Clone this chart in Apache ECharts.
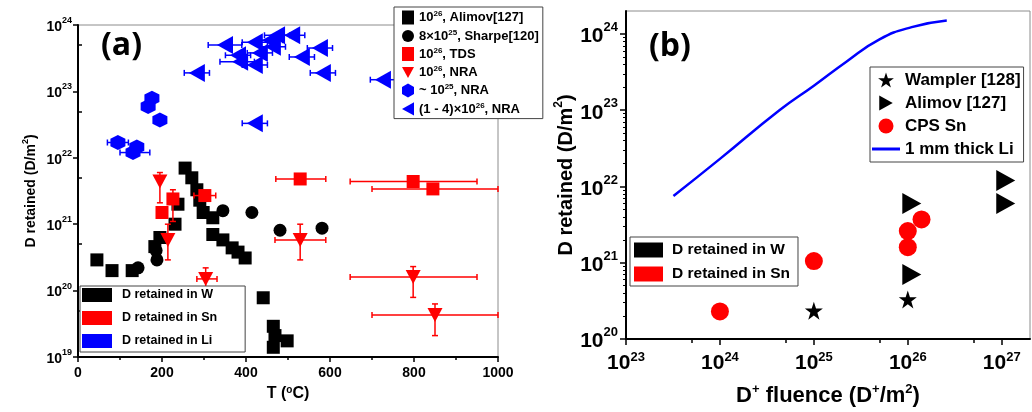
<!DOCTYPE html>
<html><head><meta charset="utf-8">
<script src="https://cdn.jsdelivr.net/npm/echarts@6/dist/echarts.min.js"></script>
<style>html,body{margin:0;padding:0;background:#fff}#c{width:1032px;height:412px}</style>
</head><body><div id="c"></div>
<script>
// ---------- Panel (a) data: [T (°C), D retained, Tlow, Thigh, Dlow, Dhigh]
const aAlimovW = [[45,2.9e20],[81,2e20],[129,2e20],[183,4.6e20],[195,6.3e20],[231,1e21],[238,2e21],[255,7e21],[271,5e21],[283,3.3e21],[290,2.3e21],[298,1.5e21],[321,1.25e21],[321,7e20],[345,5.8e20],[367,4.4e20],[381,3.8e20],[398,3.1e20],[441,7.8e19],[465,2.9e19],[469,2.1e19],[465,1.4e19],[498,1.75e19]];
const aSharpeW = [[143,2.2e20],[188,2.9e20],[186,4e20],[345,1.6e21],[414,1.5e21],[481,8.1e20],[581,8.7e20]];
const aTdsSn = [[200,1.5e21,null,null,null,null],[226,2.4e21,null,null,1.1e21,3.3e21],[302,2.7e21,276,328,null,null],[529,4.8e21,471,590,null,null],[798,4.4e21,648,950,null,null],[845,3.4e21,700,1000,null,null]];
const aNraSn = [[195,4.4e21,null,null,2.1e21,6e21],[214,5.8e20,null,null,2.9e20,1e21],[304,1.5e20,283,331,9.5e19,2.2e20],[529,5.8e20,469,590,2.9e20,1e21],[798,1.6e20,648,950,7.9e19,2.3e20],[850,4.3e19,700,1000,2.1e19,6.3e19]];
const aLi25 = [[95,1.7e22,70,120],[131,1.2e22,100,171],[140,1.45e22,null,null],[167,5.9e22,null,null],[176,7.9e22,null,null],[195,3.7e22,null,null]];
const aLi26 = [[283,1.9e23,253,313],[421,3.3e22,391,451],[350,5e23,310,390],[381,3.5e23,351,411],[386,2.8e23,338,420],[421,5.5e23,391,451],[421,2.5e23,391,451],[433,3.8e23,403,463],[457,5.9e23,427,487],[474,7e23,444,504],[464,4.7e23,434,494],[510,7e23,480,540],[533,3.3e23,503,563],[576,4.5e23,546,606],[583,1.9e23,553,613],[726,1.5e23,696,756]];
// ---------- Panel (b) data: [D+ fluence, D retained]
const bWampler = [[1e25,2.35e20],[1e26,3.3e20]];
const bAlimov = [[1e26,7e20],[1e26,6e21],[1e27,1.2e22],[1e27,6e21]];
const bCpsSn = [[1e24,2.3e20],[1e25,1.05e21],[1e26,1.6e21],[1e26,2.6e21],[1.4e26,3.7e21]];
const bLiFluence = [3.2e23,1e24,4.3e24,1e25,2.2e25,5e25,1.1e26,2.6e26];
const bLiRetained = [7.5e21,2.3e22,1e23,2.1e23,4.3e23,8.5e23,1.23e24,1.5e24];
const aYMinor = [5e19,5e20,5e21,5e22,5e23];
const bXMinor = [5e23,5e24,5e25,5e26];
const bYMinor = [];
for (let e = 20; e <= 23; e++) for (let k = 2; k <= 9; k++) bYMinor.push(k * Math.pow(10, e));
bYMinor.push(2e24);

const FF = '"Liberation Sans", Arial, sans-serif';
const RED = '#ff0000', BLUE = '#0000ff', BLK = '#000000';

function fill(rows) {
  return rows.map(r => [r[0], r[1],
    r[2] == null ? r[0] : r[2], r[3] == null ? r[0] : r[3],
    r[4] == null ? r[1] : r[4], r[5] == null ? r[1] : r[5]]);
}
function errRender(color, cap, lw) {
  return function (params, api) {
    const x = api.value(0), y = api.value(1);
    const xl = api.value(2), xh = api.value(3), yl = api.value(4), yh = api.value(5);
    const st = { stroke: color, lineWidth: lw };
    const ch = [];
    const L = (x1, y1, x2, y2) => ch.push({ type: 'line', shape: { x1, y1, x2, y2 }, style: st });
    if (xl !== xh) {
      const a = api.coord([xl, y]), b = api.coord([xh, y]);
      L(a[0], a[1], b[0], b[1]); L(a[0], a[1] - cap, a[0], a[1] + cap); L(b[0], b[1] - cap, b[0], b[1] + cap);
    }
    if (yl !== yh) {
      const a = api.coord([x, yl]), b = api.coord([x, yh]);
      L(a[0], a[1], b[0], b[1]); L(a[0] - cap, a[1], a[0] + cap, a[1]); L(b[0] - cap, b[1], b[0] + cap, b[1]);
    }
    return { type: 'group', children: ch };
  };
}
function errSeries(rows, color, xi, yi) {
  return { type: 'custom', xAxisIndex: xi, yAxisIndex: yi, data: fill(rows), renderItem: errRender(color, 3, 1.5),
    encode: { x: [0, 2, 3], y: [1, 4, 5] }, silent: true, z: 3, clip: false };
}
function supFmt(s) {
  return s.split(/(\^\d+)/).filter(p => p).map(p => p[0] === '^' ? '{s|' + p.slice(1) + '}' : '{n|' + p + '}').join('');
}
function powLabel(v) { return '{b|10}{s|' + Math.round(Math.log10(v)) + '}'; }

const HEX = 'path://M5,0L9.33,2.5L9.33,7.5L5,10L0.67,7.5L0.67,2.5Z';
const TRI_DOWN = 'path://M0,0L10,0L5,9Z';
const TRI_LEFT = 'path://M9,0L9,10L0,5Z';
const TRI_RIGHT = 'path://M0,0L0,10L9,5Z';
const STAR = 'path://M50,0L61.8,35.5L99,35.5L69,57.5L80.5,93L50,71L19.5,93L31,57.5L1,35.5L38.2,35.5Z';
const LINE_ICON = 'path://M0,0L28,0L28,3L0,3Z';

const nA = ['10^26, Alimov[127]', '8×10^25, Sharpe[120]', '10^26, TDS', '10^26, NRA', '~ 10^25, NRA', '(1 - 4)×10^26, NRA'];

const option = {
  animation: false,
  backgroundColor: '#fff',
  textStyle: { fontFamily: FF },
  grid: [
    { left: 78, top: 25, width: 420, height: 332, show: true, borderColor: '#8c8c8c', borderWidth: 1 },
    { left: 626, top: 11, width: 404, height: 334, show: true, borderColor: '#8c8c8c', borderWidth: 1 }
  ],
  xAxis: [
    { type: 'value', gridIndex: 0, min: 0, max: 1000, interval: 200,
      axisLine: { lineStyle: { color: BLK, width: 2 } },
      axisTick: { inside: false, length: 5, lineStyle: { color: BLK, width: 1.5 } },
      minorTick: { show: true, splitNumber: 2, length: 3, lineStyle: { color: BLK, width: 1.5 } },
      splitLine: { show: false },
      axisLabel: { color: BLK, fontSize: 14, fontWeight: 'bold', margin: 9, formatter: v => String(v) },
      name: '{n|T (}{s|o}{n|C)}', nameLocation: 'middle', nameGap: 26,
      nameTextStyle: { rich: { n: { fontSize: 16, fontWeight: 'bold', color: BLK, lineHeight: 18, fontFamily: FF }, s: { fontSize: 10, fontWeight: 'bold', color: BLK, lineHeight: 10, verticalAlign: 'top', fontFamily: FF } } } },
    { type: 'log', gridIndex: 1, logBase: 10, min: 1e23, max: 2e27,
      axisLine: { lineStyle: { color: BLK, width: 2 } },
      axisTick: { inside: false, length: 6, lineStyle: { color: BLK, width: 1.5 } },
      splitLine: { show: false },
      axisLabel: { formatter: powLabel, margin: 12, hideOverlap: false, rich: {
        b: { fontSize: 21, fontWeight: 'bold', color: BLK, lineHeight: 24, fontFamily: FF },
        s: { fontSize: 13, fontWeight: 'bold', color: BLK, lineHeight: 14, verticalAlign: 'top', fontFamily: FF } } },
      name: '{n|D}{s|+}{n| fluence (D}{s|+}{n|/m}{s|2}{n|)}', nameLocation: 'middle', nameGap: 44, nameMoveOverlap: false,
      nameTextStyle: { rich: { n: { fontSize: 22, fontWeight: 'bold', color: BLK, lineHeight: 26, fontFamily: FF }, s: { fontSize: 13, fontWeight: 'bold', color: BLK, lineHeight: 14, verticalAlign: 'top', fontFamily: FF } } } },
    { type: 'log', gridIndex: 1, logBase: 10, min: 1e23, max: 2e27, position: 'bottom',
      axisLine: { show: false }, axisLabel: { show: false }, splitLine: { show: false },
      axisTick: { show: true, length: 4, customValues: bXMinor, lineStyle: { color: BLK, width: 1.5 } } }
  ],
  yAxis: [
    { type: 'log', gridIndex: 0, logBase: 10, min: 1e19, max: 1e24, position: 'left',
      axisLine: { lineStyle: { color: BLK, width: 2 } },
      axisTick: { inside: false, length: 5, lineStyle: { color: BLK, width: 1.5 } },
      splitLine: { show: false },
      axisLabel: { formatter: powLabel, margin: 6, rich: {
        b: { fontSize: 14, fontWeight: 'bold', color: BLK, lineHeight: 18, verticalAlign: 'bottom', fontFamily: FF },
        s: { fontSize: 9, fontWeight: 'bold', color: BLK, lineHeight: 10, verticalAlign: 'top', fontFamily: FF } } },
      name: '{n|D retained (D/m}{s|2}{n|)}', nameLocation: 'middle', nameGap: 40,
      nameTextStyle: { rich: { n: { fontSize: 14, fontWeight: 'bold', color: BLK, lineHeight: 17, verticalAlign: 'bottom', fontFamily: FF }, s: { fontSize: 9, fontWeight: 'bold', color: BLK, lineHeight: 10, verticalAlign: 'top', fontFamily: FF } } } },
    { type: 'log', gridIndex: 0, logBase: 10, min: 1e19, max: 1e24, position: 'left',
      axisLine: { show: false }, axisLabel: { show: false }, splitLine: { show: false },
      axisTick: { show: true, inside: true, length: 4, customValues: aYMinor, lineStyle: { color: BLK, width: 1.5 } } },
    { type: 'log', gridIndex: 1, logBase: 10, min: 1e20, max: 2e24, position: 'left',
      axisLine: { lineStyle: { color: BLK, width: 2 } },
      axisTick: { inside: false, length: 6, lineStyle: { color: BLK, width: 1.5 } },
      splitLine: { show: false },
      axisLabel: { formatter: powLabel, margin: 8, rich: {
        b: { fontSize: 21, fontWeight: 'bold', color: BLK, lineHeight: 26, verticalAlign: 'bottom', fontFamily: FF },
        s: { fontSize: 13, fontWeight: 'bold', color: BLK, lineHeight: 14, verticalAlign: 'top', fontFamily: FF } } },
      name: '{n|D retained (D/m}{s|2}{n|)}', nameLocation: 'middle', nameGap: 46,
      nameTextStyle: { rich: { n: { fontSize: 20, fontWeight: 'bold', color: BLK, lineHeight: 24, verticalAlign: 'bottom', fontFamily: FF }, s: { fontSize: 12, fontWeight: 'bold', color: BLK, lineHeight: 12, verticalAlign: 'top', fontFamily: FF } } } },
    { type: 'log', gridIndex: 1, logBase: 10, min: 1e20, max: 2e24, position: 'left',
      axisLine: { show: false }, axisLabel: { show: false }, splitLine: { show: false },
      axisTick: { show: true, length: 3, customValues: bYMinor, lineStyle: { color: BLK, width: 1 } } }
  ],
  legend: [
    { data: nA.map(n => ({ name: n })), orient: 'vertical', left: 394, top: 7, width: 151,
      backgroundColor: '#fff', borderColor: '#444', borderWidth: 1, padding: [3, 4, 3, 8],
      itemWidth: 12, itemHeight: 14, itemGap: 4, selectedMode: false,
      formatter: n => supFmt(n),
      textStyle: { rich: { n: { fontSize: 13, fontWeight: 'bold', color: BLK, lineHeight: 15, fontFamily: FF }, s: { fontSize: 8, fontWeight: 'bold', color: BLK, lineHeight: 8, verticalAlign: 'top', fontFamily: FF } } } },
    { data: ['D retained in W', 'D retained in Sn', 'D retained in Li'].map(n => ({ name: n, icon: 'rect' })),
      orient: 'vertical', left: 80, top: 286, backgroundColor: '#fff', borderColor: '#444', borderWidth: 1,
      padding: [2, 28, 4, 2], itemWidth: 30, itemHeight: 14, itemGap: 9, selectedMode: false,
      textStyle: { fontSize: 12.5, fontWeight: 'bold', color: BLK, fontFamily: FF, lineHeight: 14, padding: [0, 0, 0, 5] } },
    { data: [{ name: 'Wampler [128]' }, { name: 'Alimov [127]' }, { name: 'CPS Sn' }, { name: '1 mm thick Li', icon: LINE_ICON }],
      orient: 'vertical', left: 870, top: 67, backgroundColor: '#fff', borderColor: '#444', borderWidth: 1,
      padding: [4, 3, 4, 2], itemWidth: 28, itemHeight: 15, itemGap: 5, selectedMode: false,
      textStyle: { fontSize: 17, fontWeight: 'bold', color: BLK, fontFamily: FF, lineHeight: 18 } },
    { data: ['D retained in W', 'D retained in Sn'].map(n => ({ name: n, icon: 'rect' })),
      orient: 'vertical', left: 630, top: 237, backgroundColor: '#fff', borderColor: '#444', borderWidth: 1,
      padding: [5, 8, 4, 4], itemWidth: 29, itemHeight: 15, itemGap: 8, selectedMode: false,
      textStyle: { fontSize: 15.5, fontWeight: 'bold', color: BLK, fontFamily: FF, lineHeight: 16, padding: [0, 0, 0, 4] } }
  ],
  graphic: [
    { type: 'text', left: 101, top: 30, style: { text: '(a)', font: 'bold 32px "Open Sans"', fill: BLK } },
    { type: 'text', left: 649, top: 31, style: { text: '(b)', font: 'bold 32px "Open Sans"', fill: BLK } }
  ],
  series: [
    { name: 'D retained in W', type: 'scatter', xAxisIndex: 0, yAxisIndex: 0, data: [], itemStyle: { color: BLK, opacity: 1 } },
    { name: 'D retained in Sn', type: 'scatter', xAxisIndex: 0, yAxisIndex: 0, data: [], itemStyle: { color: RED, opacity: 1 } },
    { name: 'D retained in Li', type: 'scatter', xAxisIndex: 0, yAxisIndex: 0, data: [], itemStyle: { color: BLUE, opacity: 1 } },
    { name: nA[0], type: 'scatter', xAxisIndex: 0, yAxisIndex: 0, data: aAlimovW, symbol: 'rect', symbolSize: 13, itemStyle: { color: BLK, opacity: 1 }, z: 2 },
    { name: nA[1], type: 'scatter', xAxisIndex: 0, yAxisIndex: 0, data: aSharpeW, symbol: 'circle', symbolSize: 13, itemStyle: { color: BLK, opacity: 1 }, z: 2 },
    errSeries(aTdsSn, RED, 0, 0),
    errSeries(aNraSn, RED, 0, 0),
    errSeries(aLi25, BLUE, 0, 0),
    errSeries(aLi26, BLUE, 0, 0),
    { name: nA[2], type: 'scatter', xAxisIndex: 0, yAxisIndex: 0, data: aTdsSn.map(r => [r[0], r[1]]), symbol: 'rect', symbolSize: 13, itemStyle: { color: RED, opacity: 1 }, z: 4 },
    { name: nA[3], type: 'scatter', xAxisIndex: 0, yAxisIndex: 0, data: aNraSn.map(r => [r[0], r[1]]), symbol: TRI_DOWN, symbolSize: [15, 14], itemStyle: { color: RED, opacity: 1 }, z: 4 },
    { name: nA[4], type: 'scatter', xAxisIndex: 0, yAxisIndex: 0, data: aLi25.map(r => [r[0], r[1]]), symbol: HEX, symbolSize: 15, itemStyle: { color: BLUE, opacity: 1 }, z: 4 },
    { name: nA[5], type: 'scatter', xAxisIndex: 0, yAxisIndex: 0, data: aLi26.map(r => [r[0], r[1]]), symbol: TRI_LEFT, symbolSize: [16, 18], itemStyle: { color: BLUE, opacity: 1 }, z: 4 },
    { name: '1 mm thick Li', type: 'line', xAxisIndex: 1, yAxisIndex: 2, data: bLiFluence.map((f, i) => [f, bLiRetained[i]]),
      smooth: true, showSymbol: false, symbol: 'none', lineStyle: { color: BLUE, width: 2.5 }, itemStyle: { color: BLUE } },
    { name: 'Wampler [128]', type: 'scatter', xAxisIndex: 1, yAxisIndex: 2, data: bWampler, symbol: STAR, symbolSize: 18, itemStyle: { color: BLK, opacity: 1 } },
    { name: 'Alimov [127]', type: 'scatter', xAxisIndex: 1, yAxisIndex: 2, data: bAlimov, symbol: TRI_RIGHT, symbolSize: [19, 21], symbolOffset: [4, 0], itemStyle: { color: BLK, opacity: 1 } },
    { name: 'CPS Sn', type: 'scatter', xAxisIndex: 1, yAxisIndex: 2, data: bCpsSn, symbol: 'circle', symbolSize: 18, itemStyle: { color: RED, opacity: 1 } }
  ]
};
const chart = echarts.init(document.getElementById('c'), null, { renderer: 'canvas' });
chart.setOption(option);
</script></body></html>
